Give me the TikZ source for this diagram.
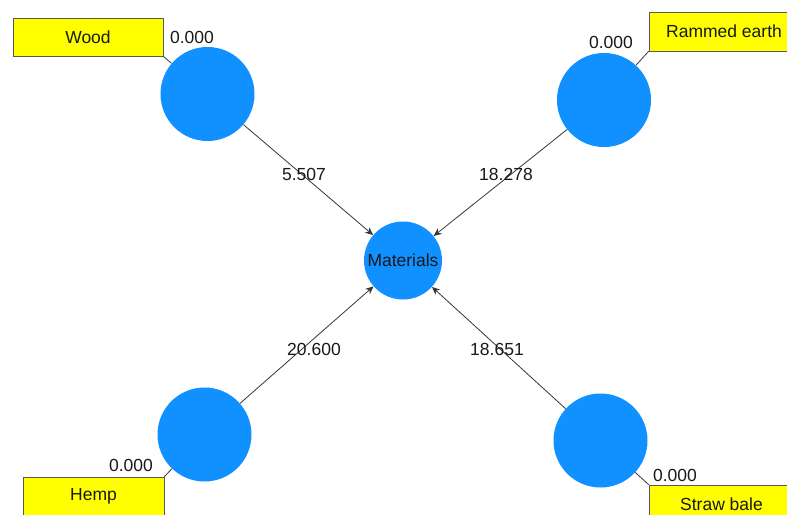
\documentclass[tikz,border=0pt]{standalone}
\usepackage{fontspec}
\setmainfont{Liberation Sans}
\usetikzlibrary{arrows.meta}
\definecolor{nodeblue}{RGB}{17,144,255}
\definecolor{boxyellow}{RGB}{255,255,0}
\definecolor{edgegray}{RGB}{55,55,55}
\definecolor{txt}{RGB}{25,25,25}
\begin{document}
\begin{tikzpicture}[x=1pt,y=-1pt,
  font=\fontsize{17.5}{20}\selectfont, text=txt,
  latent/.style={circle,fill=nodeblue,draw=none,minimum size=94pt,inner sep=0pt},
  central/.style={circle,fill=nodeblue,draw=none,minimum size=78pt,inner sep=0pt},
  indbox/.style={rectangle,fill=boxyellow,draw=gray!70!black,line width=0.7pt,minimum height=38pt,inner sep=0pt},
  link/.style={draw=edgegray,line width=0.8pt},
  path/.style={draw=edgegray,line width=0.8pt,-{Stealth[length=8pt,width=7pt]}},
  val/.style={inner sep=0pt}]
\clip (0,0) rectangle (787,514);
\fill[white] (0,0) rectangle (787,514);
% latent variables
\node[latent] (wood) at (207.5,94) {};
\node[latent] (earth) at (604,100) {};
\node[latent] (hemp) at (204.5,434.5) {};
\node[latent] (straw) at (600.5,440.5) {};
\node[central] (mat) at (403,260.5) {Materials};
% indicator boxes
\node[indbox,minimum width=150pt] (woodbox) at (88,37) {Wood};
\node[indbox,minimum width=150pt,minimum height=39pt] (earthbox) at (724,31.5) {Rammed earth};
\node[indbox,minimum width=141pt] (hempbox) at (93.5,496) {Hemp};
\node[indbox,minimum width=145pt] (strawbox) at (721.5,504) {Straw bale};
% box links
\draw[link] (woodbox.south east) -- (wood);
\draw[link] (earthbox.south west) -- (earth);
\draw[link] (hempbox.north east) -- (hemp);
\draw[link] (strawbox.north west) -- (straw);
% loadings
\node[val] (lw) at (192,37) {0.000};
\node[val] (le) at (611,42) {0.000};
\node[val] (lh) at (131,465) {0.000};
\node[val] (ls) at (675,475) {0.000};
% paths
\draw[path] (wood) -- (mat);
\draw[path] (earth) -- (mat);
\draw[path] (hemp) -- (mat);
\draw[path] (straw) -- (mat);
% path coefficients
\node[val] (cw) at (304,174) {5.507};
\node[val] (ce) at (506,174) {18.278};
\node[val] (ch) at (314,349) {20.600};
\node[val] (cs) at (497,349) {18.651};
\end{tikzpicture}
\end{document}
